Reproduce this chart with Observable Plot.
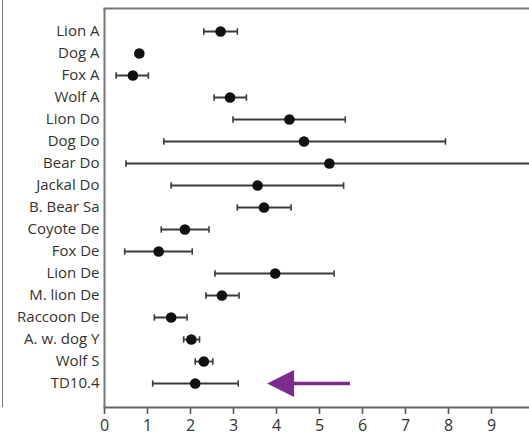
<!DOCTYPE html>
<html>
<head>
<meta charset="utf-8">
<script src="https://cdn.jsdelivr.net/npm/d3@7"></script>
<script src="https://cdn.jsdelivr.net/npm/@observablehq/plot@0.6"></script>
<style>
  html, body { margin: 0; padding: 0; background: #fff; overflow: hidden; }
  #wrap { position: relative; width: 529px; height: 436px; }
  #edge { position: absolute; left: 2px; top: 0; height: 407px; border-left: 1.5px solid #777; }
  #chart { position: absolute; left: 0; top: 0; }
  #chart svg { font-family: "Open Sans", "DejaVu Sans", sans-serif; }
  #chart svg [aria-label*="x-axis"] path,
  #chart svg [aria-label*="x-axis"] line { stroke: #555; stroke-width: 1.6px; }
  #chart svg [aria-label*="x-axis"] text { font-size: 16px; }
</style>
</head>
<body>
<div id="wrap"><div id="edge"></div><div id="chart"></div></div>
<script>
const labels = ["Lion A","Dog A","Fox A","Wolf A","Lion Do","Dog Do","Bear Do","Jackal Do","B. Bear Sa","Coyote De","Fox De","Lion De","M. lion De","Raccoon De","A. w. dog Y","Wolf S","TD10.4"];
const est = [2.70, 0.81, 0.66, 2.92, 4.30, 4.64, 5.23, 3.56, 3.71, 1.87, 1.26, 3.97, 2.73, 1.55, 2.02, 2.31, 2.11];
const lo  = [2.31, 0.74, 0.27, 2.55, 2.99, 1.38, 0.50, 1.55, 3.09, 1.32, 0.47, 2.57, 2.36, 1.16, 1.84, 2.11, 1.12];
const hi  = [3.09, 0.88, 1.02, 3.30, 5.60, 7.93, 10.5, 5.56, 4.34, 2.43, 2.04, 5.34, 3.13, 1.92, 2.21, 2.52, 3.11];
const xTicks = [0,1,2,3,4,5,6,7,8,9];
const arrowRow = "TD10.4";
const arrowFrom = 5.72;
const arrowTip = 3.78;

const rows = labels.map((name, i) => ({name, est: est[i], lo: lo[i], hi: hi[i]}));
const arrow = [{x1: arrowFrom, x2: arrowTip + 0.55, tip: arrowTip, y: arrowRow}];

// left-pointing filled triangle, tip at the anchor point
const leftTriangle = {
  draw(ctx, size) {
    const r = Math.sqrt(size / Math.PI);
    ctx.moveTo(0, 0);
    ctx.lineTo(2 * r, -r);
    ctx.lineTo(2 * r, r);
    ctx.closePath();
  }
};
// short vertical cap
const cap = {
  draw(ctx, size) {
    const r = Math.sqrt(size / Math.PI);
    ctx.moveTo(0, -r);
    ctx.lineTo(0, r);
  }
};

const chart = Plot.plot({
  width: 529,
  height: 436,
  marginLeft: 104,
  marginRight: 0,
  marginTop: 8,
  marginBottom: 29,
  style: {fontSize: "15px", color: "#333", background: "transparent"},
  x: {domain: [0, 9.884], ticks: xTicks, tickSize: 7, tickPadding: 5, label: null},
  y: {type: "band", domain: labels, range: [19, 394], padding: 0, tickSize: 0, tickPadding: 5, label: null},
  marks: [
    Plot.frame({anchor: "top", stroke: "#777", strokeWidth: 2}),
    Plot.frame({anchor: "bottom", stroke: "#666", strokeWidth: 2}),
    Plot.ruleX([0], {stroke: "#777", strokeWidth: 2}),
    Plot.ruleY(rows, {y: "name", x1: "lo", x2: "hi", stroke: "#3a3a3a", strokeWidth: 1.8, clip: true}),
    Plot.dot(rows, {y: "name", x: "lo", symbol: cap, r: 3.2, stroke: "#3a3a3a", strokeWidth: 1.6, fill: "none"}),
    Plot.dot(rows, {y: "name", x: "hi", symbol: cap, r: 3.2, stroke: "#3a3a3a", strokeWidth: 1.6, fill: "none", clip: true}),
    Plot.dot(rows, {y: "name", x: "est", r: 5.3, fill: "#111", stroke: "none"}),
    Plot.ruleY(arrow, {y: "y", x1: "x1", x2: "x2", stroke: "#7B2C8C", strokeWidth: 3.5}),
    Plot.dot(arrow, {y: "y", x: "tip", symbol: leftTriangle, r: 13.5, fill: "#7B2C8C", stroke: "none"})
  ]
});
document.getElementById("chart").appendChild(chart);
</script>
</body>
</html>
